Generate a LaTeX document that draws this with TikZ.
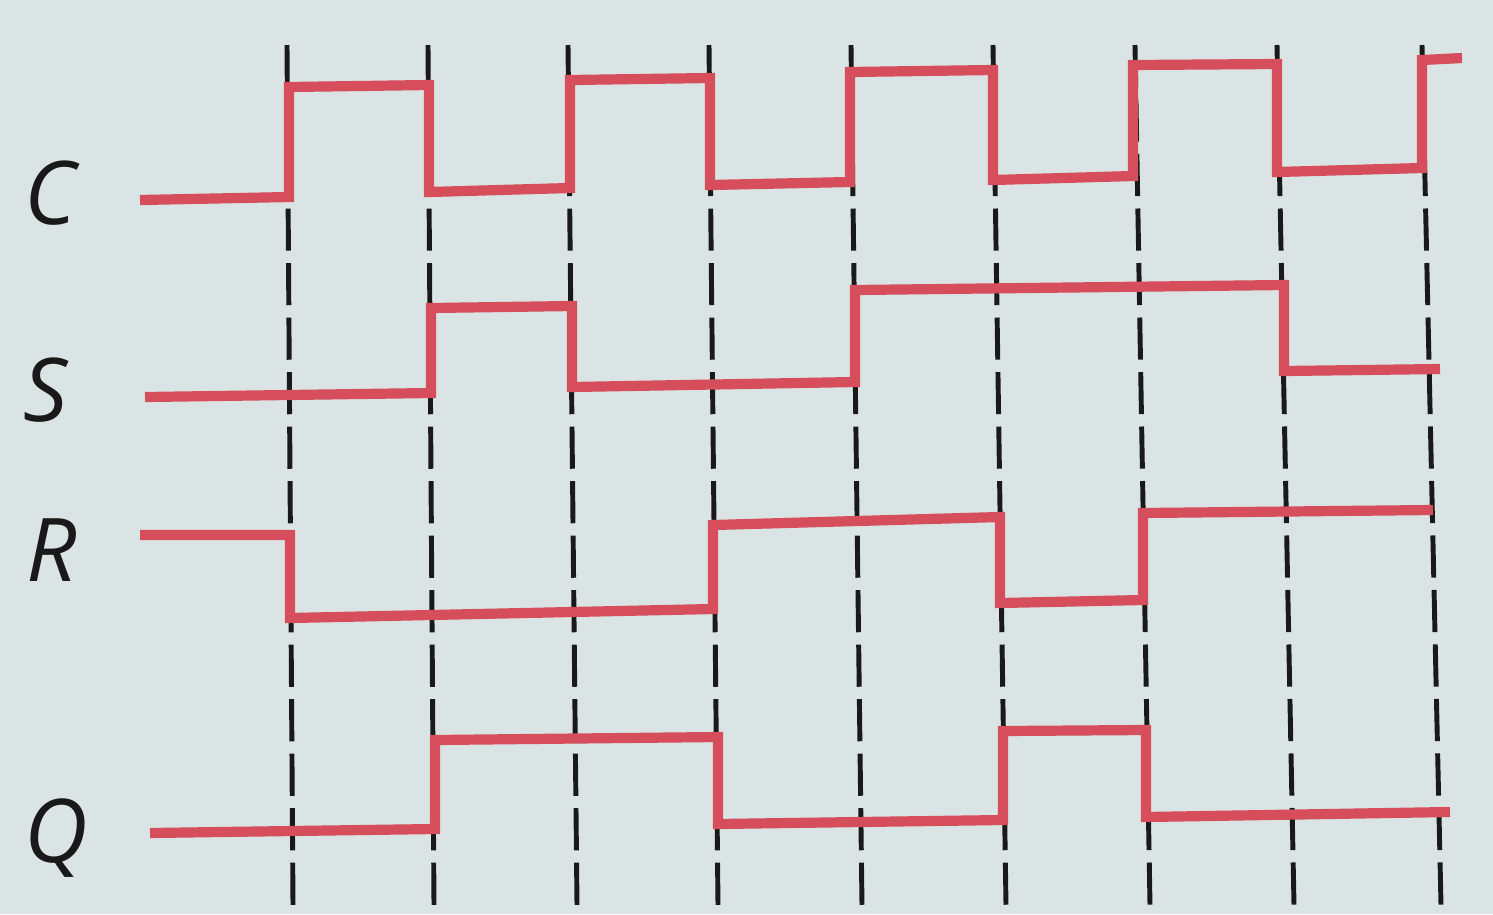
\documentclass[tikz,border=0pt]{standalone}
\usepackage{fontspec}
\setsansfont{Open Sans}
\definecolor{paper}{RGB}{219,228,228}
\definecolor{trace}{RGB}{214,78,92}
\begin{document}
\begin{tikzpicture}[
  x=0.01cm,y=-0.01cm,
  sig/.style={draw=trace,line width=2.9pt,line join=miter},
  grid/.style={draw=black!90,line width=1.4pt,dash pattern=on 12pt off 3.5pt},
  lbl/.style={font=\sffamily\itshape\fontsize{25}{25}\selectfont,text=black!90},
]
\fill[paper] (0,0) rectangle (1493,914);
\useasboundingbox (0,0) rectangle (1493,914);
\foreach \t/\b in {287/293,428/434,568/577,709/718,851/862,993/1006,1135/1150,1277/1294,1422/1441}{
  \draw[grid] (\t,45) -- (\b,905);
}
\node[lbl] (c) at (50,193) {C};
\node[lbl] (s) at (46,390) {S};
\node[lbl] (r) at (52,550) {R};
\node[lbl] (q) at (56,838) {Q};
\draw[sig] (140,200) -- (289,197) -- (289,87) -- (429,85) -- (429,192) -- (570,188)
  -- (570,80) -- (710,78) -- (710,185) -- (850,182) -- (850,72) -- (993,70)
  -- (993,180) -- (1133,176) -- (1133,65) -- (1277,64) -- (1277,172) -- (1422,168)
  -- (1422,60) -- (1462,58);
\draw[sig] (145,397) -- (431,393) -- (431,308) -- (572,306) -- (572,387) -- (855,382)
  -- (855,290) -- (1284,285) -- (1284,371) -- (1440,369);
\draw[sig] (140,535) -- (290,535) -- (290,618) -- (713,609) -- (713,525) -- (1000,517)
  -- (1000,603) -- (1143,600) -- (1143,513) -- (1433,510);
\draw[sig] (150,833) -- (435,829) -- (435,740) -- (718,737) -- (718,824) -- (1003,820)
  -- (1003,731) -- (1146,730) -- (1146,817) -- (1450,812);
\end{tikzpicture}
\end{document}
